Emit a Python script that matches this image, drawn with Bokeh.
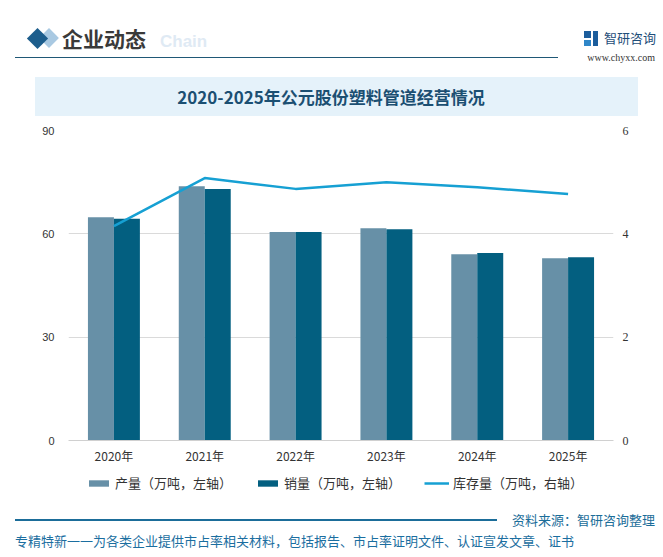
from bokeh.plotting import figure
from bokeh.models import (FactorRange, Range1d, LinearAxis, FixedTicker, Legend, LegendItem,
                          ColumnDataSource, Div)
from bokeh.layouts import column
from bokeh.transform import dodge
from bokeh.embed import file_html
from bokeh.resources import INLINE

# ---------------- data ----------------
years = ["2020年", "2021年", "2022年", "2023年", "2024年", "2025年"]
production = [64.8, 73.8, 60.5, 61.6, 54.1, 52.9]   # 产量（万吨，左轴）
sales = [64.4, 73.0, 60.5, 61.3, 54.4, 53.2]        # 销量（万吨，左轴）
stock = [4.15, 5.08, 4.87, 5.00, 4.90, 4.77]        # 库存量（万吨，右轴）
left_ticks = [0, 30, 60, 90]
right_ticks = [0, 2, 4, 6]
series_labels = ["产量（万吨，左轴）", "销量（万吨，左轴）", "库存量（万吨，右轴）"]

title_text = "2020-2025年公元股份塑料管道经营情况"
header_text = "企业动态"
source_text = "资料来源：智研咨询整理"
footer_text = "专精特新一一为各类企业提供市占率相关材料，包括报告、市占率证明文件、认证宣发文章、证书"

CJK = "Noto Sans CJK SC"
W = 647
C_PROD, C_SALES, C_STOCK = "#6790a7", "#035f80", "#16a0d3"

# ---------------- header (HTML) ----------------
def txt(left, cy, text, size, color, weight="normal", font=CJK, align="left", lh=30):
    if align == "right":
        pos = f"right:{W - left}px;text-align:right;"
    elif align == "center":
        pos = f"left:{left - 300}px;width:600px;text-align:center;"
    else:
        pos = f"left:{left}px;"
    return (f'<div style="position:absolute;{pos}top:{cy - lh / 2}px;height:{lh}px;'
            f'line-height:{lh}px;font-family:\'{font}\';font-size:{size}px;color:{color};'
            f'font-weight:{weight};white-space:nowrap;">{text}</div>')

def rect(l, t, w, h, color, extra=""):
    return (f'<div style="position:absolute;left:{l}px;top:{t}px;width:{w}px;height:{h}px;'
            f'background:{color};{extra}"></div>')

header_html = (
    f'<div style="position:relative;width:{W}px;height:110px;overflow:visible;">'
    + txt(152, 34, "Chain", 17, "#dfeaf4", "bold", "Liberation Sans")
    + rect(34, 23, 14, 14, "#a9c9e2", "transform:rotate(45deg);")
    + rect(21.5, 22.5, 15, 15, "#1c5d8c", "transform:rotate(45deg);")
    + txt(54, 30, header_text, 21, "#3a3a3a", "bold")
    + rect(7, 48.5, 543, 1.5, "#1f5876")
    + rect(576, 23, 7, 7, "#1c5d9c")
    + rect(576, 32, 7, 6, "#2f86c8")
    + rect(585, 23, 5, 15, "#1c5d9c")
    + txt(596, 30, "智研咨询", 13, "#1f4e79")
    + txt(647, 50, "www.chyxx.com", 10, "#333333", font="Liberation Serif", align="right", lh=14)
    + rect(27, 69, 603, 39, "#e5f2fa")
    + txt(323, 89, title_text, 17, "#1b4f72", "bold", align="center")
    + '</div>'
)
header = Div(text=header_html, width=W, height=110, margin=0)

# ---------------- main chart ----------------
src = ColumnDataSource(dict(year=years, production=production, sales=sales, stock=stock))

p = figure(x_range=FactorRange(*years), y_range=Range1d(0, 90),
           frame_width=545, frame_height=310,
           output_backend="svg", toolbar_location=None,
           min_border_left=60, min_border_right=42, min_border_top=12, min_border_bottom=27)
p.outline_line_color = None
p.background_fill_color = "white"
p.border_fill_color = "white"
p.x_range.range_padding = 0
p.extra_y_ranges = {"right": Range1d(0, 6)}

p.vbar(x=dodge("year", -0.143, range=p.x_range), top="production", width=0.286,
       source=src, color=C_PROD, line_color=None)
p.vbar(x=dodge("year", 0.143, range=p.x_range), top="sales", width=0.286,
       source=src, color=C_SALES, line_color=None)
p.line(x="year", y="stock", source=src, y_range_name="right",
       line_color=C_STOCK, line_width=2.5)

ly = p.yaxis[0]
ly.ticker = FixedTicker(ticks=left_ticks)
ly.axis_line_color = None
ly.major_tick_line_color = None
ly.minor_tick_line_color = None
ly.major_tick_out = 0
ly.major_label_text_font = "Liberation Sans"
ly.major_label_text_font_size = "11px"
ly.major_label_text_color = "#333333"
ly.major_label_standoff = 14

ry = LinearAxis(y_range_name="right", ticker=FixedTicker(ticks=right_ticks))
ry.axis_line_color = None
ry.major_tick_line_color = None
ry.minor_tick_line_color = None
ry.major_tick_out = 0
ry.major_label_text_font = "Liberation Serif"
ry.major_label_text_font_size = "12px"
ry.major_label_text_color = "#333333"
ry.major_label_standoff = 9
p.add_layout(ry, "right")

bx = p.xaxis[0]
bx.axis_line_color = "#d0d0d0"
bx.major_tick_line_color = None
bx.minor_tick_line_color = None
bx.major_tick_out = 0
bx.major_label_text_font = CJK
bx.major_label_text_font_size = "12px"
bx.major_label_text_color = "#333333"
bx.major_label_standoff = 6

p.xgrid.grid_line_color = None
p.ygrid.grid_line_color = "#dadada"
p.ygrid.ticker = FixedTicker(ticks=left_ticks)

# ---------------- legend strip (proxy renderers lie outside its range) ----------------
lg = figure(x_range=Range1d(0, 1), y_range=Range1d(0, 1), frame_width=545, frame_height=26,
            x_axis_type=None, y_axis_type=None, output_backend="svg", toolbar_location=None,
            min_border_left=60, min_border_right=42, min_border_top=0, min_border_bottom=0)
lg.outline_line_color = None
lg.xgrid.visible = False
lg.ygrid.visible = False
g1 = lg.vbar(x=[-5], top=[-4], bottom=[-5], width=0.1, color=C_PROD, line_color=None)
g2 = lg.vbar(x=[-5], top=[-4], bottom=[-5], width=0.1, color=C_SALES, line_color=None)
g3 = lg.line(x=[-5, -4], y=[-5, -5], line_color=C_STOCK, line_width=2.5)
legend = Legend(items=[LegendItem(label=series_labels[0], renderers=[g1]),
                       LegendItem(label=series_labels[1], renderers=[g2]),
                       LegendItem(label=series_labels[2], renderers=[g3])],
                orientation="horizontal", location=(18, 1),
                glyph_width=25, glyph_height=8, label_standoff=4, spacing=23,
                label_text_font=CJK, label_text_font_size="13px", label_text_color="#333333",
                border_line_color=None, background_fill_alpha=0, padding=2, margin=0)
lg.add_layout(legend)

# ---------------- footer (HTML) ----------------
footer_html = (
    f'<div style="position:relative;width:{W}px;height:56px;overflow:visible;">'
    + rect(7, 26.4, 482, 1.2, "#1b6d99")
    + txt(647, 27, source_text, 13, "#1b6d99", align="right", lh=20)
    + txt(7, 48, footer_text, 13, "#1b6ea0", lh=20)
    + '</div>'
)
footer = Div(text=footer_html, width=W, height=56, margin=0)

layout = column(header, p, lg, footer, spacing=0, margin=(8, 8, 0, 8))
open("out.html", "w").write(file_html(layout, INLINE))
